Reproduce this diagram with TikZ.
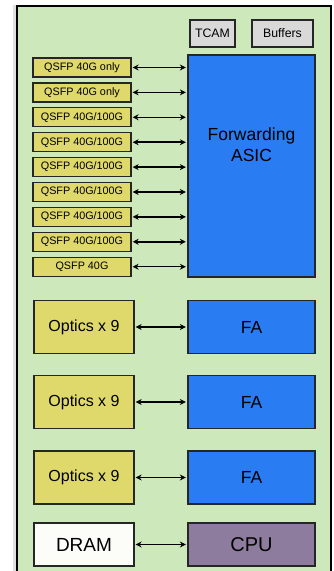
\documentclass[tikz,border=0pt]{standalone}
\usepackage{fontspec}
\setmainfont{Liberation Sans}
\usepackage{tikz}
\usetikzlibrary{arrows.meta,positioning}
\definecolor{boardgreen}{HTML}{CDE8BA}
\definecolor{portyellow}{HTML}{DFD86B}
\definecolor{asicblue}{HTML}{2A7CF3}
\definecolor{memgray}{HTML}{D9D9D9}
\definecolor{cpupurple}{HTML}{8D7C9D}
\definecolor{dramwhite}{HTML}{FCFCF8}
\tikzset{
  every picture/.style = {
    >={Stealth[length=6pt, width=6pt]},
  }
  ,
  box/.style = {
    rectangle,
    draw = black!85,
    line width = 1.3pt,
    inner sep = 0pt
  }
  , % front ports
  qsfp/.style = {
    box,
    fill = portyellow,
    minimum width = 98pt,
    minimum height = 19pt,
    font = \fontsize{10.8}{12}\selectfont
  }
  , % line cards
  optics/.style = {
    box,
    fill = portyellow,
    minimum width = 100pt,
    minimum height = 53pt,
    font = \fontsize{16}{18}\selectfont
  }
  ,
  fa/.style = {
    box,
    fill = asicblue,
    minimum width = 127pt,
    minimum height = 53pt,
    font = \fontsize{17.5}{20}\selectfont
  }
  , % small memories
  mem/.style = {
    box,
    fill = memgray,
    minimum height = 27pt,
    font = \fontsize{12.3}{14}\selectfont
  }
  ,
  link/.style = {
    <->,
    line width = 1.5pt,
    shorten <= 1pt,
    shorten >= 1.5pt
  }
}
\begin{document}
\begin{tikzpicture}[x=1pt, y=-1pt]
\useasboundingbox (0,0) rectangle (333,571);
\clip (0,0) rectangle (333,571);
\fill[black!12] (13,5) rectangle (16,600);
\draw[fill=boardgreen, line width=2pt] (16.5,5.5) rectangle (330.5,600);

\node[mem, minimum width=45pt] at (212.5,33.5) (tcam) {TCAM};
\node[mem, minimum width=61pt] at (282.5,33.5) (buffers) {Buffers};

\node[box, fill=asicblue, minimum width=127pt, minimum height=222pt] at (251.5,166) (asic) {};
\node[font=\fontsize{17.5}{21}\selectfont, align=center] at (251.5,144.5) (asictext) {Forwarding\\ASIC};

\foreach \i/\txt in {0/{QSFP 40G only}, 1/{QSFP 40G only}, 2/{QSFP 40G/100G}, 3/{QSFP 40G/100G},
  4/{QSFP 40G/100G}, 5/{QSFP 40G/100G}, 6/{QSFP 40G/100G}, 7/{QSFP 40G/100G}, 8/{QSFP 40G}} {
  \node[qsfp] at (82,67.5+24.9*\i) (q\i) {\txt};
  \draw[link] (q\i.east) -- (asic.west |- q\i.east);
}

\foreach \i/\y in {1/327, 2/402, 3/477.5} {
  \node[optics] at (84,\y) (opt\i) {Optics x 9};
  \node[fa] at (251.5,\y) (fa\i) {FA};
  \draw[link] (opt\i) -- (fa\i);
}

\node[box, fill=dramwhite, minimum width=100pt, minimum height=43pt,
  font=\fontsize{19}{22}\selectfont] at (84,544.5) (dram) {DRAM};
\node[box, fill=cpupurple, minimum width=127pt, minimum height=43pt,
  font=\fontsize{20}{24}\selectfont] at (251.5,544.5) (cpu) {CPU};
\draw[link] (dram) -- (cpu);
\end{tikzpicture}
\end{document}
